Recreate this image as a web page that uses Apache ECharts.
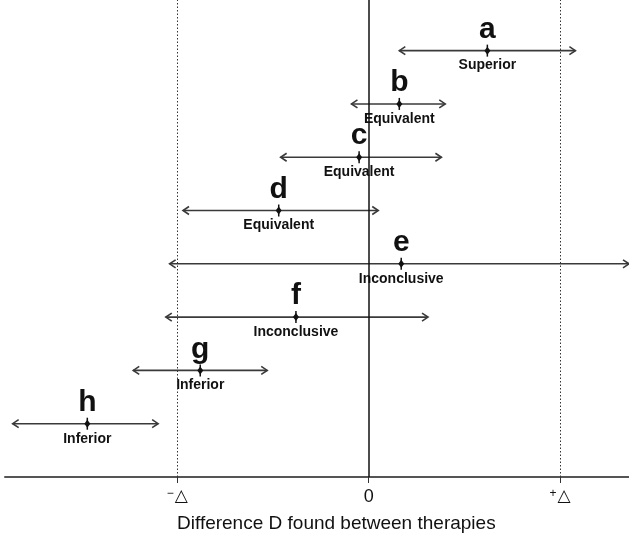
<!DOCTYPE html>
<html lang="en">
<head>
    <meta charset="UTF-8">
    <title>Equivalence trial outcomes</title>
    <style>
        html, body { margin: 0; padding: 0; background: #fff; }
        #main { width: 629px; height: 537px; }
    </style>
</head>
<body>
<div id="main"></div>
<script src="https://cdn.jsdelivr.net/npm/echarts@6/dist/echarts.min.js"></script>
<script>
    // trials a..h, top to bottom; x in units of the margin delta
    const letters = ['a', 'b', 'c', 'd', 'e', 'f', 'g', 'h'];
    const verdicts = ['Superior', 'Equivalent', 'Equivalent', 'Equivalent', 'Inconclusive', 'Inconclusive', 'Inferior', 'Inferior'];
    const estimates = [0.62, 0.16, -0.05, -0.47, 0.17, -0.38, -0.88, -1.47];
    const lower = [0.16, -0.09, -0.46, -0.97, -1.04, -1.06, -1.23, -1.86];
    const upper = [1.08, 0.40, 0.38, 0.05, 1.36, 0.31, -0.53, -1.10];
    const rows = [8, 7, 6, 5, 4, 3, 2, 1];
    const tickValues = [-1, 0, 1];
    const tickLabels = ['{s|−}{d|△}', '{z|0}', '{s|+}{d|△}'];

    const FONT = '"Liberation Sans", Arial, sans-serif';
    const chart = echarts.init(document.getElementById('main'));

    const data = letters.map(function (l, i) {
        return [estimates[i], lower[i], upper[i], rows[i], i];
    });

    function renderItem(params, api) {
        const i = api.value(4);
        const y = api.coord([0, api.value(3)])[1];
        const xc = api.coord([api.value(0), 0])[0];
        const xl = api.coord([api.value(1), 0])[0];
        const xh = api.coord([api.value(2), 0])[0];
        const lineStyle = { stroke: '#3a3a3a', lineWidth: 1.6, fill: null };
        return {
            type: 'group',
            children: [
                { type: 'line', shape: { x1: xl, y1: y, x2: xh, y2: y }, style: lineStyle },
                { type: 'polyline', shape: { points: [[xl + 6, y - 4], [xl, y], [xl + 6, y + 4]] }, style: lineStyle },
                { type: 'polyline', shape: { points: [[xh - 6, y - 4], [xh, y], [xh - 6, y + 4]] }, style: lineStyle },
                { type: 'line', shape: { x1: xc, y1: y - 6, x2: xc, y2: y + 6 }, style: { stroke: '#111', lineWidth: 1.5 } },
                { type: 'polygon', shape: { points: [[xc, y - 4], [xc + 3, y], [xc, y + 4], [xc - 3, y]] }, style: { fill: '#111' } },
                {
                    type: 'text',
                    style: {
                        text: letters[i], x: xc, y: y - 6,
                        textAlign: 'center', textVerticalAlign: 'bottom',
                        font: 'bold 30px ' + FONT, fill: '#111'
                    }
                },
                {
                    type: 'text',
                    z2: 5,
                    style: {
                        text: verdicts[i], x: xc, y: y + 15,
                        textAlign: 'center', textVerticalAlign: 'middle',
                        font: 'bold 14px ' + FONT, fill: '#111',
                        backgroundColor: '#fff', padding: [1, 2]
                    }
                }
            ]
        };
    }

    chart.setOption({
        animation: false,
        grid: { left: 5, right: 0, top: 0, bottom: 60 },
        xAxis: {
            type: 'value',
            min: -1.9,
            max: 1.36,
            splitLine: { show: false },
            axisLine: { onZero: false, lineStyle: { color: '#555', width: 2 } },
            axisTick: { customValues: tickValues, length: 6, lineStyle: { color: '#333', width: 1 } },
            axisLabel: {
                customValues: tickValues,
                margin: 11,
                formatter: function (v) { return tickLabels[tickValues.indexOf(v)]; },
                rich: {
                    s: { fontSize: 12, fontFamily: FONT, color: '#111', verticalAlign: 'top', padding: [0, 1, 0, 0] },
                    d: { fontSize: 17, fontFamily: 'DejaVu Sans', color: '#111' },
                    z: { fontSize: 18, fontFamily: FONT, color: '#111' }
                }
            }
        },
        yAxis: { type: 'value', min: 0, max: 8.95, show: false },
        graphic: [{
            type: 'text',
            left: 177,
            top: 514,
            style: { text: 'Difference D found between therapies', font: '19px ' + FONT, fill: '#111' }
        }],
        series: [
            {
                type: 'line',
                data: [],
                z: 1,
                markLine: {
                    silent: true,
                    symbol: 'none',
                    label: { show: false },
                    data: [
                        { xAxis: -1, lineStyle: { type: [1.5, 2], color: '#333', width: 1 } },
                        { xAxis: 0, lineStyle: { type: 'solid', color: '#111', width: 1.5 } },
                        { xAxis: 1, lineStyle: { type: [1.5, 2], color: '#333', width: 1 } }
                    ]
                }
            },
            {
                type: 'custom',
                z: 3,
                clip: false,
                renderItem: renderItem,
                encode: { x: [0, 1, 2], y: 3 },
                data: data
            }
        ]
    });
</script>
</body>
</html>
